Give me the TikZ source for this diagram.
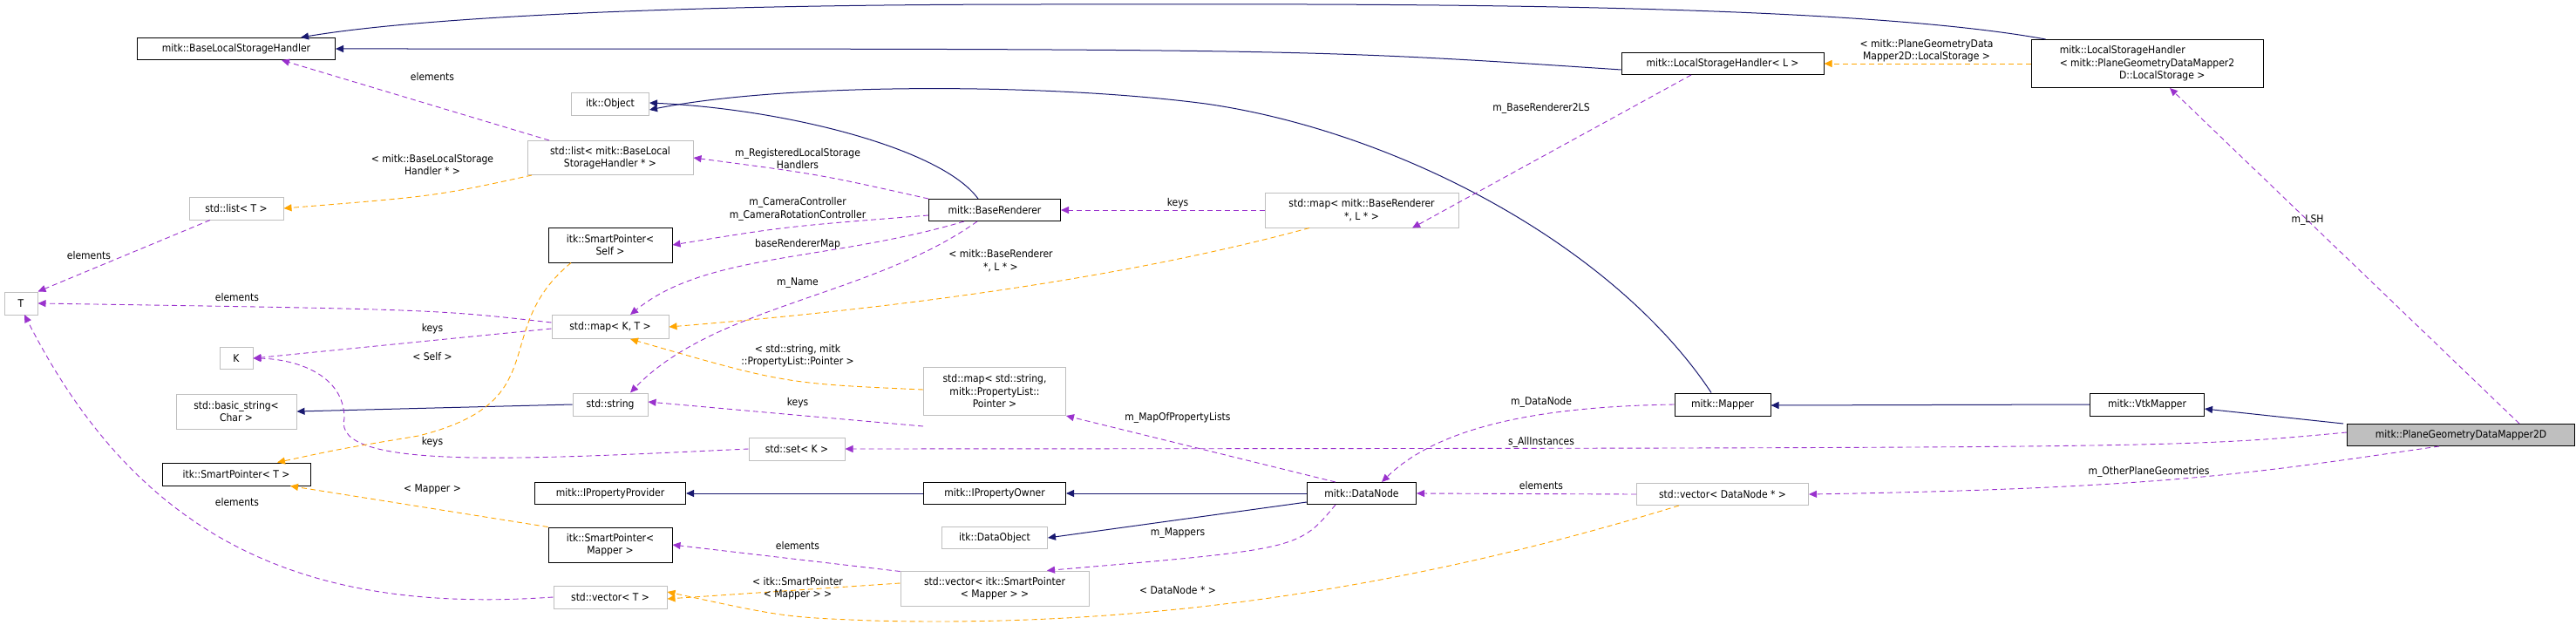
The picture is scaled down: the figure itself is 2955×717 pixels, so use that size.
\documentclass[tikz,border=0pt]{standalone}
\usepackage{fontspec}
\setmainfont{DejaVu Sans Condensed}
\usetikzlibrary{arrows.meta}
\definecolor{navy}{HTML}{191970}
\definecolor{orch}{HTML}{9A32CD}
\definecolor{tplc}{HTML}{FFA500}
\definecolor{gline}{HTML}{BFBFBF}
\tikzset{
  cls/.style={draw=black, line width=1pt, inner sep=0pt, font=\fontsize{12}{14.5}\selectfont, align=center},
  ext/.style={cls, draw=gline},
  cur/.style={cls, fill=gline},
  sz/.style 2 args={minimum width=#1pt, minimum height=#2pt},
  lbl/.style={inner sep=0pt, font=\fontsize{12}{14.5}\selectfont, align=center},
  inh/.style={draw=navy, line width=1pt, -{Triangle[length=9pt,width=8pt]}},
  use/.style={draw=orch, line width=0.9pt, dash pattern=on 6pt off 4pt, -{Triangle[length=9pt,width=8pt]}},
  tpl/.style={draw=tplc, line width=0.9pt, dash pattern=on 6pt off 4pt, -{Triangle[length=9pt,width=8pt]}}
}
\begin{document}
\begin{tikzpicture}[x=1pt,y=-1pt]
\useasboundingbox (0,0) rectangle (2955,717);

% classes
\node[cls, sz={227}{25}] (blsh) at (271,56) {mitk::BaseLocalStorageHandler};
\node[ext, sz={89}{26}] (itko) at (700,119) {itk::Object};
\node[ext, sz={190}{39}] (lstb) at (700,181) {std::list< mitk::BaseLocal\\StorageHandler * >};
\node[ext, sz={108}{26}] (lstt) at (271,239) {std::list< T >};
\node[ext, sz={38}{26}] (tt) at (24,348) {T};
\node[cls, sz={142}{40}] (spself) at (700,281) {itk::SmartPointer<\\Self >};
\node[ext, sz={134}{27}] (mapkt) at (700,375) {std::map< K, T >};
\node[ext, sz={38}{25}] (kk) at (271,411) {K};
\node[ext, sz={138}{40}] (bstr) at (271,472) {std::basic\_string<\\Char >};
\node[ext, sz={86}{26}] (str) at (700,464) {std::string};
\node[ext, sz={110}{26}] (setk) at (914,515) {std::set< K >};
\node[cls, sz={170}{26}] (spt) at (271,544) {itk::SmartPointer< T >};
\node[cls, sz={173}{25}] (ipp) at (700,566) {mitk::IPropertyProvider};
\node[cls, sz={142}{40}] (spmap) at (700,625) {itk::SmartPointer<\\Mapper >};
\node[ext, sz={130}{26}] (vect) at (700,685) {std::vector< T >};
\node[cls, sz={232}{25}] (lshl) at (1976,73) {mitk::LocalStorageHandler< L >};
\node[cls, sz={151}{25}] (br) at (1141,241) {mitk::BaseRenderer};
\node[ext, sz={222}{40}] (mapbr) at (1562,241) {std::map< mitk::BaseRenderer\\*, L * >};
\node[ext, sz={163}{55}] (mapstr) at (1141,449) {std::map< std::string,\\mitk::PropertyList::\\Pointer >};
\node[cls, sz={110}{26}] (mapper) at (1976,464) {mitk::Mapper};
\node[cls, sz={163}{25}] (ipo) at (1141,566) {mitk::IPropertyOwner};
\node[cls, sz={125}{25}] (dn) at (1562,566) {mitk::DataNode};
\node[ext, sz={121}{25}] (dobj) at (1141,617) {itk::DataObject};
\node[ext, sz={216}{40}] (vecsp) at (1141,675) {std::vector< itk::SmartPointer\\< Mapper > >};
\node[ext, sz={197}{25}] (vecdn) at (1976,567) {std::vector< DataNode * >};
\node[cls, sz={266}{55}, align=left] (lshp) at (2463,73) {mitk::LocalStorageHandler\\< mitk::PlaneGeometryDataMapper2\\\hspace*{5.7em}D::LocalStorage >};
\node[cls, sz={131}{26}] (vtk) at (2463,464) {mitk::VtkMapper};
\node[cur, sz={261}{25}] (pgdm) at (2823,499) {mitk::PlaneGeometryDataMapper2D};

% inheritance
\draw[inh] ([xshift=17pt]lshp.north west) .. controls (2100,0) and (1500,5) .. (1200,5) .. controls (700,5) and (450,25) .. ([xshift=74pt]blsh.north);
\draw[inh] ([yshift=-7pt]lshl.west) .. controls (1500,56) .. (blsh.east);
\draw[inh] ([xshift=-19pt]br.north) .. controls (1080,170) and (900,125) .. ([yshift=1pt]itko.east);
\draw[inh] ([xshift=-13pt]mapper.north) .. controls (1850,280) and (1600,150) .. (1383,119) .. controls (1200,95) and (900,95) .. ([yshift=-7pt]itko.east);
\draw[inh] (str.west) -- (bstr.east);
\draw[inh] (ipo.west) -- (ipp.east);
\draw[inh] (dn.west) -- (ipo.east);
\draw[inh] ([yshift=3pt]dn.south west) -- (dobj.east);
\draw[inh] (vtk.west) -- ([yshift=-1pt]mapper.east);
\draw[inh] ([xshift=-4pt]pgdm.north west) -- ([yshift=-5pt]vtk.east);

% usage
\draw[use] ([xshift=-70pt]lstb.north) -- ([xshift=52pt]blsh.south);
\node[lbl] (l1) at (496,88) {elements};
\draw[use] ([xshift=-30pt]lstt.south) -- (tt.north east);
\node[lbl] (l2) at (102,293) {elements};
\draw[use] ([yshift=5pt]mapkt.west) .. controls (500,355) .. (tt.east);
\node[lbl] (l3) at (272,341) {elements};
\draw[use] ([yshift=-2pt]mapkt.west) -- (kk.east);
\node[lbl] (l4) at (496,377) {keys};
\draw[use] (setk.west) .. controls (600,527) and (380,540) .. (395,480) .. controls (395,430) and (340,412) .. (kk.east);
\node[lbl] (l5) at (496,507) {keys};
\draw[use] (vect.west) .. controls (350,705) and (160,620) .. (28,361);
\node[lbl] (l6) at (272,576) {elements};
\draw[use] (br.north west) .. controls (940,200) .. (lstb.east);
\node[lbl] (l7) at (915,182) {m\_RegisteredLocalStorage\\Handlers};
\draw[use] ([yshift=-6pt]br.west) .. controls (900,260) .. (spself.east);
\node[lbl] (l8) at (915,240) {m\_CameraController\\m\_CameraRotationController};
\draw[use] ([xshift=-35pt]br.south) .. controls (950,300) and (810,290) .. ([xshift=23pt]mapkt.north);
\node[lbl] (l9) at (915,280) {baseRendererMap};
\draw[use] ([xshift=-20pt]br.south) .. controls (1000,340) and (820,350) .. ([xshift=23pt]str.north);
\node[lbl] (l10) at (915,325) {m\_Name};
\draw[use] (mapbr.west) -- (br.east);
\node[lbl] (l11) at (1351,233) {keys};
\draw[use] ([xshift=-36pt]lshl.south) -- ([xshift=58pt]mapbr.south);
\node[lbl] (l12) at (1768,124) {m\_BaseRenderer2LS};
\draw[use] ([yshift=-12pt]mapstr.south west) .. controls (900,475) .. ([yshift=3pt]str.east);
\node[lbl] (l13) at (915,462) {keys};
\draw[use] ([xshift=-30pt]dn.north) -- (mapstr.south east);
\node[lbl] (l14) at (1351,479) {m\_MapOfPropertyLists};
\draw[use] (mapper.west) .. controls (1800,466) and (1660,480) .. ([xshift=23pt]dn.north);
\node[lbl] (l15) at (1768,461) {m\_DataNode};
\draw[use] ([yshift=3pt]pgdm.west) .. controls (2500,514) .. (setk.east);
\node[lbl] (l16) at (1768,507) {s\_AllInstances};
\draw[use] (vecdn.west) -- (dn.east);
\node[lbl] (l17) at (1768,557) {elements};
\draw[use] ([xshift=-30pt]dn.south) .. controls (1490,630) .. ([xshift=60pt]vecsp.north);
\node[lbl] (l18) at (1351,612) {m\_Mappers};
\draw[use] ([yshift=-1pt]vecsp.north west) .. controls (900,640) .. (spmap.east);
\node[lbl] (l19) at (915,626) {elements};
\draw[use] ([xshift=67pt]pgdm.north) -- ([xshift=26pt]lshp.south);
\node[lbl] (l20) at (2647,252) {m\_LSH};
\draw[use] ([xshift=-25pt]pgdm.south) .. controls (2600,540) and (2500,560) .. (vecdn.east);
\node[lbl] (l21) at (2465,541) {m\_OtherPlaneGeometries};

% templates
\draw[tpl] ([xshift=-90pt]lstb.south) .. controls (500,225) .. (lstt.east);
\node[lbl] (t1) at (496,189) {< mitk::BaseLocalStorage\\Handler * >};
\draw[tpl] ([xshift=-45pt]spself.south) .. controls (560,380) and (640,460) .. (480,500) .. controls (390,515) .. ([xshift=47pt]spt.north);
\node[lbl] (t2) at (496,409) {< Self >};
\draw[tpl] ([xshift=-60pt]mapbr.south) .. controls (1250,330) and (950,360) .. (mapkt.east);
\node[lbl] (t3) at (1148,299) {< mitk::BaseRenderer\\*, L * >};
\draw[tpl] ([yshift=2pt]mapstr.west) .. controls (900,440) .. ([xshift=23pt]mapkt.south);
\node[lbl] (t4) at (915,408) {< std::string, mitk\\::PropertyList::Pointer >};
\draw[tpl] (spmap.north west) -- ([xshift=62pt]spt.south);
\node[lbl] (t5) at (496,561) {< Mapper >};
\draw[tpl] ([yshift=6pt]vecsp.west) -- ([yshift=-2pt]vect.east);
\node[lbl] (t6) at (915,675) {< itk::SmartPointer\\< Mapper > >};
\draw[tpl] ([xshift=-50pt]vecdn.south) .. controls (1600,680) and (1300,720) .. (1000,712) .. controls (900,708) .. ([yshift=6pt]vect.east);
\node[lbl] (t7) at (1351,677) {< DataNode * >};
\draw[tpl] (lshp.west) -- (lshl.east);
\node[lbl] (t8) at (2210,58) {< mitk::PlaneGeometryData\\Mapper2D::LocalStorage >};
\end{tikzpicture}
\end{document}
